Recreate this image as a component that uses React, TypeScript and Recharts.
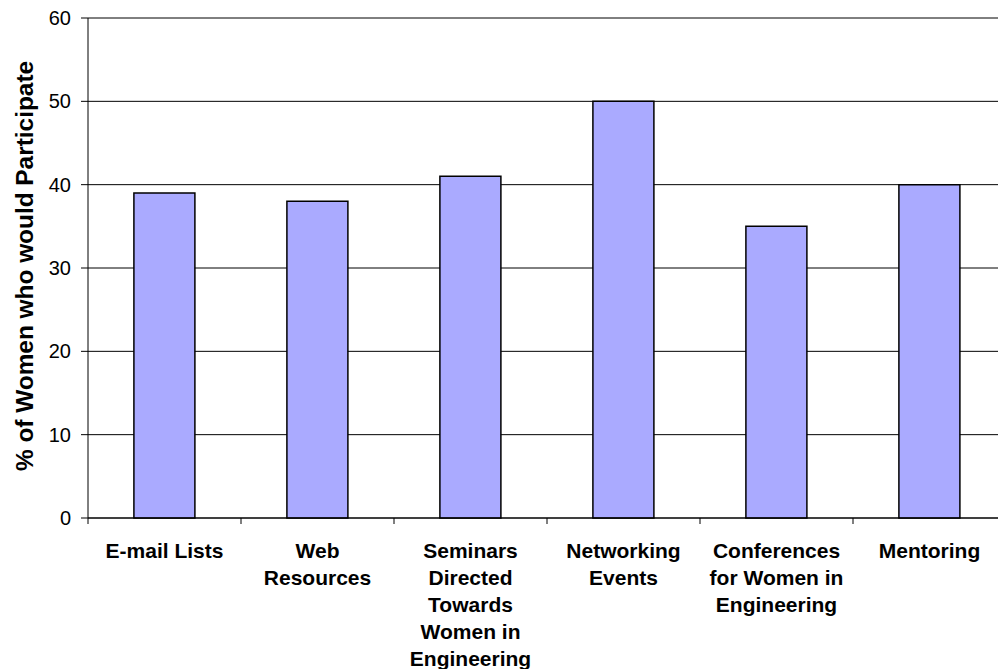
import { BarChart, Bar, XAxis, YAxis, CartesianGrid } from "recharts";

// 参加意向のある女性の割合（カテゴリ別棒グラフ）

const categories = [
  "E-mail Lists",
  "Web Resources",
  "Seminars Directed Towards Women in Engineering",
  "Networking Events",
  "Conferences for Women in Engineering",
  "Mentoring",
];

// 軸ラベルの改行位置（元画像どおり）
const categoryLines = [
  ["E-mail Lists"],
  ["Web", "Resources"],
  ["Seminars", "Directed", "Towards", "Women in", "Engineering"],
  ["Networking", "Events"],
  ["Conferences", "for Women in", "Engineering"],
  ["Mentoring"],
];

const percentages = [39, 38, 41, 50, 35, 40];

const yTicks = [0, 10, 20, 30, 40, 50, 60];

const yAxisTitle = "% of Women who would Participate";

const data = categories.map((name, i) => ({
  name,
  lines: categoryLines[i],
  value: percentages[i],
}));

const FONT = "'Liberation Sans', Arial, Helvetica, sans-serif";
// 右端はウィンドウの外まで伸びる（元画像の通り切れている）
const CHART_W = 1006;
const CHART_H = 669;
const Y_AXIS_W = 88;
const BAND = (CHART_W - Y_AXIS_W) / categories.length;

// カテゴリ境界の目盛り線＋複数行ラベル
function CategoryTick(props: any) {
  const { x, y, index } = props;
  const lines: string[] = data[index]?.lines ?? [];
  return (
    <g>
      <line
        x1={x - BAND / 2}
        x2={x - BAND / 2}
        y1={y - 6}
        y2={y}
        stroke="#000"
        strokeWidth={1}
      />
      <text
        x={x}
        y={y + 34}
        textAnchor="middle"
        fill="#000"
        fontFamily={FONT}
        fontSize={21}
        fontWeight="bold"
      >
        {lines.map((l, i) => (
          <tspan key={i} x={x} dy={i === 0 ? 0 : 27}>
            {l}
          </tspan>
        ))}
      </text>
    </g>
  );
}

function YTitle(props: any) {
  const vb = props.viewBox || {};
  const cy = vb.y + vb.height / 2 - 2;
  const cx = 33;
  return (
    <text
      x={cx}
      y={cy}
      transform={`rotate(-90, ${cx}, ${cy})`}
      textAnchor="middle"
      fill="#000"
      fontFamily={FONT}
      fontSize={24.4}
      fontWeight="bold"
    >
      {yAxisTitle}
    </text>
  );
}

export default function App() {
  return (
    <div
      style={{
        position: "fixed",
        left: 0,
        top: 0,
        width: 998,
        height: 669,
        overflow: "hidden",
        background: "#fff",
        fontFamily: FONT,
      }}
    >
      <BarChart
        width={CHART_W}
        height={CHART_H}
        data={data}
        margin={{ top: 18, right: 0, left: 0, bottom: 0 }}
        barCategoryGap="30%"
      >
        <CartesianGrid vertical={false} stroke="#000" strokeWidth={1} />
        <XAxis
          dataKey="name"
          interval={0}
          height={151}
          tickLine={false}
          tickSize={6}
          tickMargin={0}
          axisLine={{ stroke: "#000", strokeWidth: 1 }}
          tick={<CategoryTick />}
        />
        <YAxis
          width={Y_AXIS_W}
          domain={[0, 60]}
          ticks={yTicks}
          interval={0}
          tickSize={7}
          tickMargin={10}
          axisLine={{ stroke: "#000", strokeWidth: 1 }}
          tickLine={{ stroke: "#000", strokeWidth: 1 }}
          tick={{ fill: "#000", fontSize: 20, fontFamily: FONT }}
          label={<YTitle />}
        />
        <Bar
          dataKey="value"
          fill="#AAAAFF"
          stroke="#000"
          strokeWidth={1.5}
          isAnimationActive={false}
        />
      </BarChart>
    </div>
  );
}
